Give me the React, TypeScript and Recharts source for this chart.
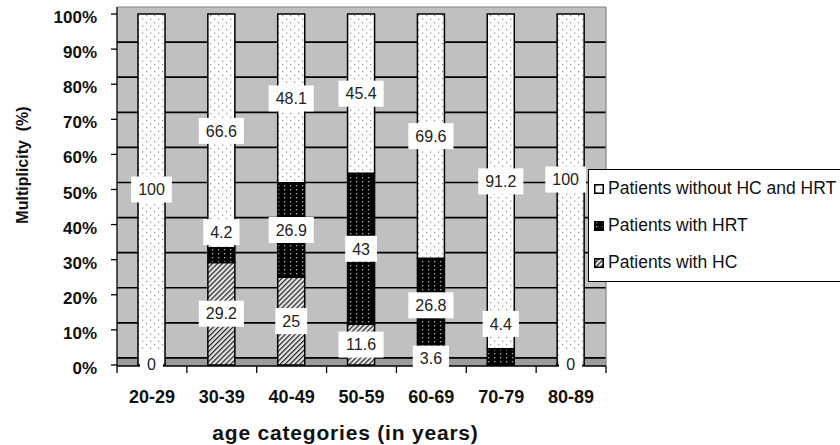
import React from "react";
import { Bar, BarChart, CartesianGrid, Label, LabelList, Legend, XAxis, YAxis } from "recharts";

const categories = ["20-29", "30-39", "40-49", "50-59", "60-69", "70-79", "80-89"];
const withHC = [0, 29.2, 25, 11.6, 3.6, null, 0];
const withHRT = [0, 4.2, 26.9, 43, 26.8, 4.4, 0];
const withoutBoth = [100, 66.6, 48.1, 45.4, 69.6, 91.2, 100];
const yTicks = [0, 10, 20, 30, 40, 50, 60, 70, 80, 90, 100];

// each column is drawn as a share of its own total (100 % stacked)
const data = categories.map((age, i) => {
    const total = (withHC[i] ?? 0) + (withHRT[i] ?? 0) + withoutBoth[i];
    const share = (v: number | null) => (v === null ? null : (v / total) * 100);
    return {
        age,
        hc: share(withHC[i]), hcRaw: withHC[i],
        hrt: share(withHRT[i]), hrtRaw: withHRT[i],
        none: share(withoutBoth[i]), noneRaw: withoutBoth[i],
    };
});

const series = [
    { key: "hc", name: "Patients with HC", fill: "url(#patHC)" },
    { key: "hrt", name: "Patients with HRT", fill: "url(#patHRT)" },
    { key: "none", name: "Patients without HC and HRT", fill: "url(#patNone)" },
];

// labels that were dragged off their segment in the original
const labelNudge: Record<string, [number, number]> = {
    "hrt|30-39": [0, -23],
    "hrt|70-79": [0, -33],
    "none|80-89": [-5, -10],
};

const FONT = "'Liberation Sans', Arial, sans-serif";
const W = 840;
const H = 445;
const MARGIN = { top: 7, right: 234, bottom: 0, left: 0 };
const Y_AXIS_W = 117;
const X_AXIS_H = 79;
const Y_MIN = -0.3;
const Y_MAX = 102;
const WALL_SHIFT = 7; // back-wall gridlines sit a little above the ticks (3-D look)
const BAND = (W - MARGIN.left - MARGIN.right - Y_AXIS_W) / categories.length;
const stripeFills = ["#C0C0C0", "#C0C0C0", "#C0C0C0", "#C0C0C0", "#C0C0C0", "#C0C0C0", "#C0C0C0", "#C0C0C0", "#C0C0C0", "#C0C0C0", "#9c9c9c"];

const textWidth = (s: string) =>
    s.split("").reduce((w, c) => w + (c === "." ? 0.278 : 0.556), 0) * 16;

const makeLabel = (key: string) => (props: any) => {
    const { x, y, width, height, value } = props;
    if (value === null || value === undefined) return null;
    const text = String(value);
    const bx = Number(x) + Number(width) / 2;
    const cat = categories[Math.floor((bx - MARGIN.left - Y_AXIS_W) / BAND)];
    const [dx, dy] = labelNudge[`${key}|${cat}`] ?? [0, 0];
    const cx = bx + dx;
    const cy = Number(y) + Number(height) / 2 + dy;
    const w = textWidth(text) + 14;
    return (
        <g>
            <rect x={cx - w / 2} y={cy - 13} width={w} height={26} fill="#fff" />
            <text x={cx} y={cy} dy="0.36em" textAnchor="middle" fontFamily={FONT} fontSize={16} fill="#222">
                {text}
            </text>
        </g>
    );
};

const XTick = (props: any) => {
    const { x, y, payload, index } = props;
    const axisY = y - 24;
    const half = BAND / 2;
    return (
        <g>
            <line x1={x - half} x2={x - half} y1={axisY} y2={axisY + 7} stroke="#000" strokeWidth={1.3} />
            {index === categories.length - 1 &&
                <line x1={x + half} x2={x + half} y1={axisY} y2={axisY + 7} stroke="#000" strokeWidth={1.3} />}
            <text x={x} y={y} dy="0.72em" textAnchor="middle" fontFamily={FONT} fontWeight="bold" fontSize={18} fill="#111">
                {payload.value}
            </text>
        </g>
    );
};

const YTitle = () => {
    const cx = 22;
    const cy = 165;
    return (
        <g transform={`translate(${cx} ${cy}) rotate(-90)`}>
            <text x={0} y={0} dy="0.36em" textAnchor="middle" fill="#111" fontFamily={FONT} fontWeight="bold"
                fontSize={16} style={{ fontSize: "16px", whiteSpace: "pre" }}>
                Multiplicity  (%)
            </text>
        </g>
    );
};

const XTitle = (props: any) => {
    const vb = props.viewBox ?? { x: Y_AXIS_W, y: H - X_AXIS_H, width: BAND * categories.length, height: X_AXIS_H };
    return (
        <text x={vb.x + vb.width / 2 - 16} y={vb.y + 74} textAnchor="middle"
            fontFamily={FONT} fontWeight="bold" fontSize={21} letterSpacing={0.8} fill="#111">
            age categories (in years)
        </text>
    );
};

const gridLine = (p: any) => {
    const top = Math.abs(p.y1 - MARGIN.top) < 1;
    return <line key={p.key} x1={p.x1} y1={p.y1} x2={p.x2} y2={p.y2}
        stroke={top ? "#808080" : "#000"} strokeWidth={top ? 1.2 : 1.7} />;
};

const borderLine = (p: any) =>
    <line key={p.key} x1={p.x1} y1={p.y1} x2={p.x2} y2={p.y2} stroke="#808080" strokeWidth={1.2} />;

const LegendBox = () => (
    <div style={{
        width: 270, height: 113, boxSizing: "border-box", border: "1px solid #000", background: "#fff",
        fontFamily: FONT, fontSize: 17.5, color: "#111",
    }}>
        {[...series].reverse().map(s => (
            <div key={s.key} style={{ height: 37, display: "flex", alignItems: "center", paddingLeft: 5 }}>
                <svg width={10} height={10} style={{ marginRight: 4 }}>
                    <rect x={0.75} y={0.75} width={8.5} height={8.5} fill={s.fill} stroke="#000" strokeWidth={1.5} />
                </svg>
                <span>{s.name}</span>
            </div>
        ))}
    </div>
);

export default function App() {
    return (
        <div style={{ position: "absolute", left: 0, top: 0, width: W, height: H, overflow: "hidden", background: "#fff" }}>
            <BarChart width={W} height={H} data={data} margin={MARGIN} barSize={27}>
                <defs>
                    <pattern id="patNone" width="8" height="7" patternUnits="userSpaceOnUse">
                        <rect width="8" height="7" fill="#fff" />
                        <rect x="2" y="1" width="1.2" height="1.2" fill="#8a8a8a" />
                        <rect x="6" y="4.5" width="1.2" height="1.2" fill="#8a8a8a" />
                    </pattern>
                    <pattern id="patHRT" width="6" height="4" patternUnits="userSpaceOnUse">
                        <rect width="6" height="4" fill="#000" />
                        <rect x="2" y="1" width="1.3" height="1.3" fill="#b0b0b0" />
                    </pattern>
                    <pattern id="patHC" width="3.5" height="3.5" patternUnits="userSpaceOnUse" patternTransform="rotate(45)">
                        <rect width="3.5" height="3.5" fill="#e4e4e4" />
                        <line x1="0.6" y1="0" x2="0.6" y2="3.5" stroke="#222" strokeWidth="1.2" />
                    </pattern>
                </defs>
                <CartesianGrid
                    horizontalCoordinatesGenerator={({ offset }: any) =>
                        yTicks.map(v => offset.top + ((Y_MAX - v) / (Y_MAX - Y_MIN)) * offset.height - WALL_SHIFT)}
                    verticalCoordinatesGenerator={({ offset }: any) => [offset.left + offset.width]}
                    horizontalFill={stripeFills}
                    fillOpacity={1}
                    horizontal={gridLine}
                    vertical={borderLine}
                />
                <XAxis dataKey="age" height={X_AXIS_H} interval={0} tickLine={false} tickSize={7} tickMargin={17}
                    axisLine={{ stroke: "#000", strokeWidth: 1.3 }} tick={<XTick />}>
                    <Label content={XTitle} />
                </XAxis>
                <YAxis type="number" domain={[Y_MIN, Y_MAX]} allowDataOverflow ticks={yTicks} width={Y_AXIS_W}
                    tickSize={6} tickMargin={14} tickFormatter={(v: number) => `${v}%`}
                    axisLine={{ stroke: "#000", strokeWidth: 1.3 }} tickLine={{ stroke: "#000", strokeWidth: 1.3 }}
                    tick={{ fontFamily: FONT, fontSize: 17, fontWeight: "bold", fill: "#111", dy: 3 }}>
                    <Label content={YTitle} />
                </YAxis>
                <Legend layout="horizontal" align="center" verticalAlign="middle" content={<LegendBox />}
                    wrapperStyle={{ left: 588, top: 169, width: 270, height: 113 }} />
                {series.map(s => (
                    <Bar key={s.key} dataKey={s.key} name={s.name} stackId="a" fill={s.fill}
                        stroke="#000" strokeWidth={1.5} minPointSize={s.key === "none" ? 0 : 1} isAnimationActive={false}>
                        <LabelList dataKey={`${s.key}Raw`} content={makeLabel(s.key)} />
                    </Bar>
                ))}
            </BarChart>
        </div>
    );
}
